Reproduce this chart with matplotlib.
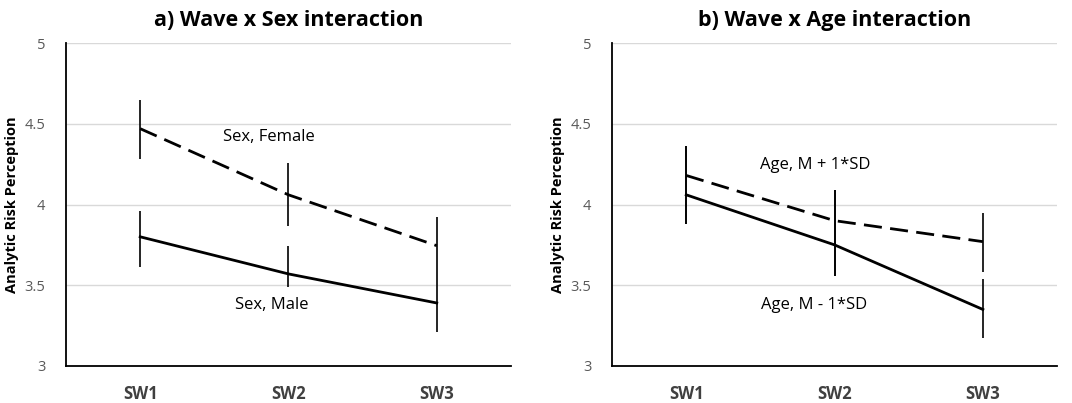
import matplotlib.pyplot as plt

waves = ["SW1", "SW2", "SW3"]

# panel a) Wave x Sex
female = [4.47, 4.06, 3.745]
female_lo = [4.28, 3.87, 3.57]
female_hi = [4.65, 4.26, 3.92]
male = [3.80, 3.57, 3.39]
male_lo = [3.61, 3.49, 3.21]
male_hi = [3.96, 3.74, 3.57]

# panel b) Wave x Age
age_hi = [4.18, 3.90, 3.77]
age_hi_lo = [3.88, 3.56, 3.58]
age_hi_hi = [4.36, 4.09, 3.95]
age_lo = [4.06, 3.75, 3.35]
age_lo_lo = [3.88, 3.56, 3.17]
age_lo_hi = [4.36, 4.09, 3.54]

titles = ["a) Wave x Sex interaction", "b) Wave x Age interaction"]
labels_a = ["Sex, Female", "Sex, Male"]
labels_b = ["Age, M + 1*SD", "Age, M - 1*SD"]

plt.rcParams['font.family'] = ['Open Sans', 'DejaVu Sans']

fig = plt.figure(figsize=(10.72, 4.03), dpi=100)
ax_a = fig.add_axes([0.0616, 0.092, 0.415, 0.801])
ax_b = fig.add_axes([0.571, 0.092, 0.415, 0.801])

x = list(range(len(waves)))


def draw_series(ax, vals, lo, hi, dashed):
    line, = ax.plot(x, vals, color='black', lw=2.0, zorder=3)
    if dashed:
        line.set_dashes((6.5, 3))
    ax.vlines(x, lo, hi, color='black', lw=1.2, zorder=3)


def style(ax, title):
    ax.set_xlim(-0.5, 2.5)
    ax.set_ylim(3, 5)
    ax.set_yticks([3, 3.5, 4, 4.5, 5])
    ax.set_yticklabels(["3", "3.5", "4", "4.5", "5"], color='#595959', fontsize=10.5)
    ax.set_xticks(x)
    ax.set_xticklabels(waves, color='#404040', fontsize=12, fontweight='bold')
    ax.tick_params(length=0, pad=14, axis='x')
    ax.tick_params(length=0, pad=15, axis='y')
    ax.grid(axis='y', color='#d9d9d9', lw=1.0)
    ax.set_axisbelow(True)
    for s in ['top', 'right']:
        ax.spines[s].set_visible(False)
    for s in ['left', 'bottom']:
        ax.spines[s].set_color('black')
        ax.spines[s].set_linewidth(1.3)
    ax.set_ylabel("Analytic Risk Perception", fontsize=10.5, fontweight='bold',
                  labelpad=4)
    ax.set_title(title, fontsize=15.5, fontweight='bold', pad=12)


draw_series(ax_a, female, female_lo, female_hi, True)
draw_series(ax_a, male, male_lo, male_hi, False)
style(ax_a, titles[0])
ax_a.text(0.87, 4.42, labels_a[0], ha='center', va='center', fontsize=12)
ax_a.text(0.89, 3.38, labels_a[1], ha='center', va='center', fontsize=12)

draw_series(ax_b, age_hi, age_hi_lo, age_hi_hi, True)
draw_series(ax_b, age_lo, age_lo_lo, age_lo_hi, False)
style(ax_b, titles[1])
ax_b.text(0.87, 4.245, labels_b[0], ha='center', va='center', fontsize=12)
ax_b.text(0.86, 3.38, labels_b[1], ha='center', va='center', fontsize=12)

fig.savefig("out.png", dpi=100)
